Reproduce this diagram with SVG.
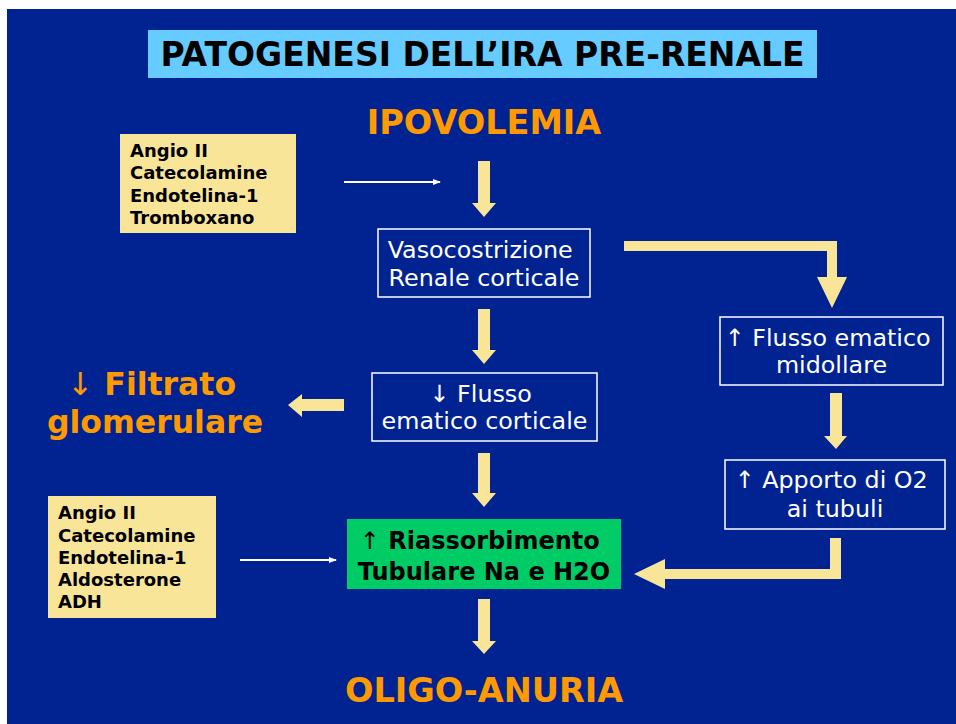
<svg xmlns="http://www.w3.org/2000/svg" width="956" height="724" viewBox="0 0 956 724">
<style>
.b{font-family:"DejaVu Sans","Liberation Sans",sans-serif;}
.bold{font-weight:bold;}
.w{fill:#ffffff;font-size:23.8px;}
.k{fill:#000000;}
.o{fill:#FF9900;font-weight:bold;}
.thinglyph{font-weight:normal;}
.box{fill:#002391;stroke:#ffffff;stroke-width:1.5;}
.yb{fill:#F9E598;}
.arr{fill:#F9E598;}
.thin{stroke:#ffffff;stroke-width:2;fill:none;}
</style>
<defs>
<marker id="wh" markerWidth="8" markerHeight="8" refX="7" refY="4" orient="auto" markerUnits="userSpaceOnUse">
<path d="M0,1 L8,4 L0,7 Z" fill="#ffffff"/>
</marker>
</defs>
<rect x="0" y="0" width="956" height="724" fill="#ffffff"/>
<rect x="7" y="9" width="949" height="715" fill="#002391"/>

<g id="title">
<rect x="148" y="30" width="669" height="48" fill="#66CCFF"/>
<text class="b bold k" x="482.5" y="66" font-size="33" text-anchor="middle">PATOGENESI DELL’IRA PRE-RENALE</text>
</g>

<g id="ipovolemia">
<text class="b o" x="484" y="134" font-size="33.5" text-anchor="middle">IPOVOLEMIA</text>
</g>

<g id="mediatori1">
<rect class="yb" x="120" y="134" width="176" height="99"/>
<text class="b bold k" font-size="18">
<tspan x="130" y="157">Angio II</tspan>
<tspan x="130" y="179">Catecolamine</tspan>
<tspan x="130" y="202">Endotelina-1</tspan>
<tspan x="130" y="224">Tromboxano</tspan>
</text>
</g>

<g id="vasocostrizione">
<rect class="box" x="378" y="229" width="212" height="68"/>
<text class="b w" text-anchor="middle">
<tspan x="484" y="258">Vasocostrizione</tspan>
<tspan x="484" y="286">Renale corticale</tspan>
</text>
</g>

<g id="flusso-corticale">
<rect class="box" x="372" y="373" width="225" height="68"/>
<text class="b w" text-anchor="middle">
<tspan x="484.5" y="402">↓ Flusso</tspan>
<tspan x="484.5" y="429">ematico corticale</tspan>
</text>
</g>

<g id="filtrato">
<text class="b o" font-size="31.5" text-anchor="middle">
<tspan x="157" y="395"><tspan class="thinglyph">↓</tspan> Filtrato</tspan>
<tspan x="155" y="433">glomerulare</tspan>
</text>
</g>

<g id="flusso-midollare">
<rect class="box" x="720" y="317" width="223" height="68"/>
<text class="b w" text-anchor="middle">
<tspan x="831.5" y="346">↑ Flusso ematico</tspan>
<tspan x="831.5" y="373">midollare</tspan>
</text>
</g>

<g id="apporto-o2">
<rect class="box" x="725" y="460" width="220" height="69"/>
<text class="b w" text-anchor="middle">
<tspan x="835" y="488">↑ Apporto di O2</tspan>
<tspan x="835" y="517">ai tubuli</tspan>
</text>
</g>

<g id="riassorbimento">
<rect x="347" y="519" width="274" height="70" fill="#00CC66"/>
<text class="b bold k" font-size="24" text-anchor="middle">
<tspan x="484" y="549"><tspan class="thinglyph">↑</tspan> Riassorbimento</tspan>
<tspan x="484" y="580">Tubulare Na e H2O</tspan>
</text>
</g>

<g id="mediatori2">
<rect class="yb" x="48" y="496" width="168" height="122"/>
<text class="b bold k" font-size="18">
<tspan x="58" y="519">Angio II</tspan>
<tspan x="58" y="542">Catecolamine</tspan>
<tspan x="58" y="564">Endotelina-1</tspan>
<tspan x="58" y="586">Aldosterone</tspan>
<tspan x="58" y="608">ADH</tspan>
</text>
</g>

<g id="oligo-anuria">
<text class="b o" x="484" y="702" font-size="33.5" text-anchor="middle">OLIGO-ANURIA</text>
</g>

<g id="connectors">
<polygon class="arr" points="478,161 490,161 490,203 496,203 484,217 472,203 478,203"/>
<polygon class="arr" points="478,309 490,309 490,350 496,350 484,364 472,350 478,350"/>
<polygon class="arr" points="478,453 490,453 490,493 496,493 484,507 472,493 478,493"/>
<polygon class="arr" points="478,599 490,599 490,641 496,641 484,654 472,641 478,641"/>
<polygon class="arr" points="344,399 344,411 302,411 302,417 288,405 302,394 302,399"/>
<polygon class="arr" points="624,241 837,241 837,277 847,277 832,308 817,277 827,277 827,251 624,251"/>
<polygon class="arr" points="830,393 842,393 842,436 847,436 836,449 824,436 830,436"/>
<polygon class="arr" points="830,538 841,538 841,579 665,579 665,589 634,574 665,559 665,569 830,569"/>
<line class="thin" x1="344" y1="182" x2="440" y2="182" marker-end="url(#wh)"/>
<line class="thin" x1="240" y1="560" x2="336" y2="560" marker-end="url(#wh)"/>
</g>
</svg>
